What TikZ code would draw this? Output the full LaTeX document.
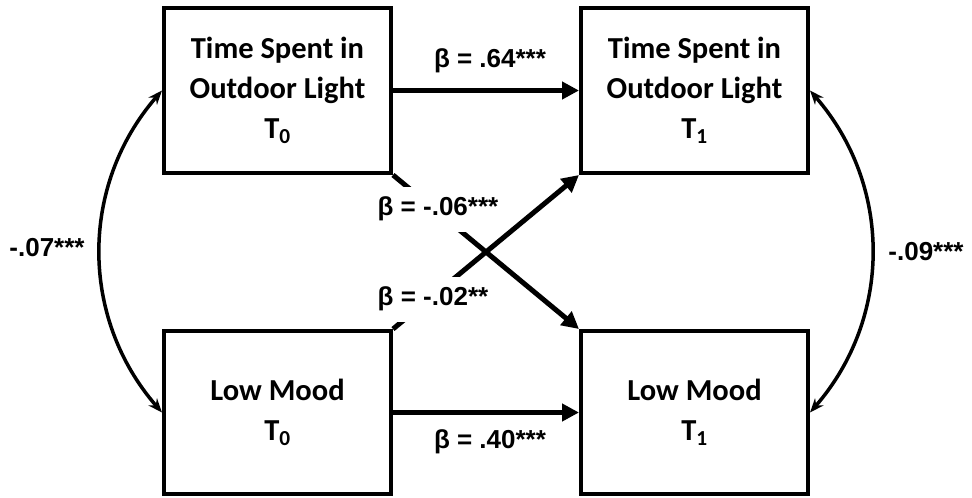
\documentclass[tikz,border=0pt]{standalone}
\usepackage{fontspec}
\setmainfont{Liberation Sans}
\newfontfamily\boxfam{Carlito}
\usetikzlibrary{arrows.meta}
\tikzset{
  varbox/.style={draw, line width=4pt, minimum width=227pt, minimum height=165pt,
    align=center, inner sep=0pt, font=\boxfam\bfseries\fontsize{30.5}{40}\selectfont},
  patharr/.style={line width=5pt, -{Triangle[length=17pt,width=17pt]}},
  corarr/.style={line width=3.5pt, {Stealth[length=14pt,width=11pt]}-{Stealth[length=14pt,width=11pt]}},
  coeff/.style={font=\bfseries\fontsize{26}{30}\selectfont, inner sep=0pt},
  gaplabel/.style={coeff, fill=white, inner xsep=8pt, minimum height=45pt}
}
\begin{document}
\begin{tikzpicture}[x=1pt,y=-1pt]
\useasboundingbox (0,0) rectangle (972,498);
\node[varbox] (tl) at (277.5,90.5) {Time Spent in\\Outdoor Light\\T\textsubscript{0}};
\node[varbox] (tr) at (694.5,90.5) {Time Spent in\\Outdoor Light\\T\textsubscript{1}};
\node[varbox, minimum height=163pt] (bl) at (277.5,412.5) {Low Mood\\T\textsubscript{0}};
\node[varbox, minimum height=163pt] (br) at (694.5,412.5) {Low Mood\\T\textsubscript{1}};

\draw[patharr] (tl.east) -- (tr.west);
\draw[patharr] (bl.east) -- (br.west);
\draw[patharr] (tl.south east) -- (br.north west);
\draw[patharr] (bl.north east) -- (tr.south west);

\node[coeff] (b64) at (490,61) {β = .64***};
\node[coeff] (b40) at (490,442) {β = .40***};
\node[gaplabel] (b06) at (438,209) {β = -.06***};
\node[gaplabel] (b02) at (433,299) {β = -.02**};

\draw[corarr] (tl.west) to[bend right=41] (bl.west);
\draw[corarr] (tr.east) to[bend left=41] (br.east);
\node[coeff] (c07) at (47,248) {-.07***};
\node[coeff] (c09) at (926,252) {-.09***};
\end{tikzpicture}
\end{document}
